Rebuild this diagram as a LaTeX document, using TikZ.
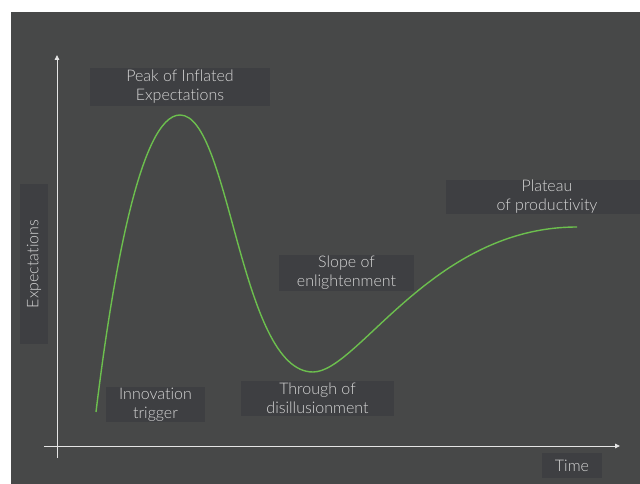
\documentclass[tikz,border=0pt]{standalone}
\usepackage{fontspec}
\setmainfont{Lato Light}[Ligatures=NoCommon]
\usetikzlibrary{arrows.meta,positioning}

\definecolor{bgGray}{HTML}{474848}
\definecolor{boxGray}{HTML}{3E3F42}
\definecolor{txtGray}{HTML}{D6D6D6}
\definecolor{hypeGreen}{HTML}{6CBF4E}

\tikzset{
  phase/.style={fill=boxGray,text=txtGray,align=center,inner sep=0pt,
    font=\fontsize{16}{19}\selectfont},
  axis/.style={draw=white!90!black,line width=0.9pt,-{Triangle[length=5pt,width=4.5pt]}},
  hype/.style={draw=hypeGreen,line width=1.4pt}
}

\begin{document}
\begin{tikzpicture}[x=1pt,y=-1pt]

\useasboundingbox (0,0) rectangle (640,484);
\fill[white] (0,0) rectangle (640,484);
\fill[bgGray] (11,12) rectangle (640,484);

% labels of the phases
\node[phase,minimum width=180pt,minimum height=38pt] (peak) at (180,87) {Peak of Inflated\\Expectations};
\node[phase,minimum width=99pt,minimum height=35pt] (trigger) at (155.5,404.5) {Innovation\\trigger};
\node[phase,minimum width=153pt,minimum height=35pt] (trough) at (317.5,398.5) {Through of\\disillusionment};
\node[phase,minimum width=135pt,minimum height=36pt] (slope) at (346.5,273) {Slope of\\enlightenment};
\node[phase,minimum width=202pt,minimum height=32pt] (plateau) at (547,197) {Plateau\\of productivity};
\node[phase,minimum width=60pt,minimum height=25pt] (time) at (572,465.5) {Time};
\node[phase,minimum width=160pt,minimum height=28pt,rotate=90] (expect) at (34,264) {Expectations};

% axes
\coordinate (ybottom) at (57,458);
\coordinate (ytop) at (57,55);
\coordinate (xleft) at (44,446);
\coordinate (xright) at (620,446);
\draw[axis] (ybottom) -- (ytop);
\draw[axis] (xleft) -- (xright);

% hype curve
\coordinate (start) at (96,412);
\coordinate (top) at (180,115);
\coordinate (low) at (313,372);
\coordinate (flat) at (577,227);
\draw[hype] (start) .. controls (112,280) and (140,115) .. (top)
  .. controls (230,115) and (240,372) .. (low)
  .. controls (358,372) and (432,227) .. (flat);

\end{tikzpicture}
\end{document}
